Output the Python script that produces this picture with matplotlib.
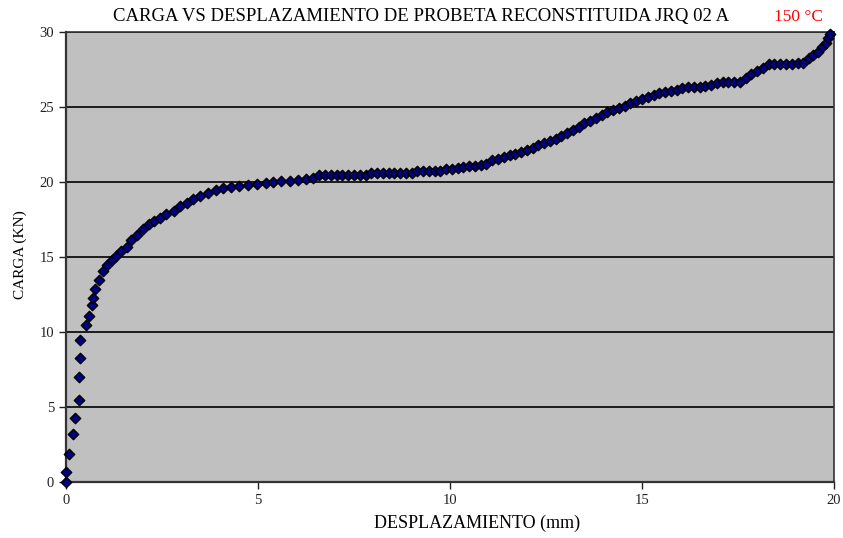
import numpy as np
import matplotlib
matplotlib.use("Agg")
import matplotlib.pyplot as plt

# desplazamiento (mm) and carga (kN)
desplazamiento = [0.0, 0.0, 0.09, 0.18, 0.24, 0.33, 0.33, 0.37, 0.37, 0.52, 0.61, 0.67, 0.7, 0.75, 0.85,
                  0.97, 1.08, 1.19, 1.3, 1.42, 1.58, 1.7, 1.85, 2.01, 2.15, 2.3, 2.45, 2.6, 2.8, 2.97,
                  3.14, 3.3, 3.49, 3.7, 3.9, 4.1, 4.3, 4.5, 4.75, 4.97, 5.2, 5.4, 5.6, 5.83, 6.05,
                  6.25, 6.43, 6.6, 6.75, 6.9, 7.05, 7.2, 7.35, 7.5, 7.65, 7.8, 7.95, 8.1, 8.25, 8.4,
                  8.55, 8.7, 8.85, 9.0, 9.15, 9.3, 9.45, 9.6, 9.75, 9.9, 10.05, 10.2, 10.35, 10.5,
                  10.65, 10.8, 10.95, 11.1, 11.25, 11.4, 11.55, 11.7, 11.85, 12.0, 12.15, 12.3, 12.45,
                  12.6, 12.75, 12.9, 13.05, 13.2, 13.35, 13.5, 13.65, 13.8, 13.95, 14.1, 14.25, 14.4,
                  14.55, 14.7, 14.85, 15.0, 15.15, 15.3, 15.45, 15.6, 15.75, 15.9, 16.05, 16.2, 16.35,
                  16.5, 16.65, 16.8, 16.95, 17.1, 17.25, 17.4, 17.55, 17.7, 17.85, 18.0, 18.15, 18.3,
                  18.45, 18.6, 18.75, 18.9, 19.05, 19.2, 19.35, 19.46, 19.58, 19.7, 19.78, 19.84, 19.9]
carga = [0.0, 0.67, 1.85, 3.18, 4.3, 5.5, 7.0, 8.25, 9.45, 10.47, 11.1, 11.8, 12.3, 12.9, 13.5,
         14.1, 14.5, 14.8, 15.1, 15.4, 15.7, 16.1, 16.5, 16.9, 17.2, 17.4, 17.6, 17.85, 18.1, 18.4,
         18.6, 18.85, 19.1, 19.3, 19.45, 19.58, 19.68, 19.75, 19.82, 19.9, 19.95, 20.0, 20.05, 20.1, 20.15,
         20.2, 20.25, 20.45, 20.45, 20.45, 20.45, 20.45, 20.45, 20.45, 20.45, 20.45, 20.6, 20.6, 20.6, 20.6,
         20.6, 20.6, 20.6, 20.6, 20.75, 20.75, 20.75, 20.75, 20.75, 20.85, 20.9, 20.95, 21.0, 21.05,
         21.1, 21.12, 21.2, 21.45, 21.55, 21.65, 21.78, 21.88, 22.0, 22.15, 22.3, 22.45, 22.6,
         22.75, 22.9, 23.08, 23.25, 23.5, 23.7, 23.92, 24.1, 24.3, 24.5, 24.65, 24.8, 24.95,
         25.1, 25.3, 25.42, 25.55, 25.7, 25.8, 25.95, 26.0, 26.1, 26.15, 26.25, 26.35, 26.35,
         26.35, 26.4, 26.47, 26.6, 26.7, 26.7, 26.7, 26.7, 26.95, 27.2, 27.4, 27.58, 27.9,
         27.9, 27.9, 27.9, 27.9, 27.95, 27.95, 28.25, 28.47, 28.7, 29.0, 29.3, 29.58, 29.9]

plt.rcParams['font.family'] = ['Liberation Serif', 'DejaVu Serif']

fig = plt.figure(figsize=(8.43, 5.38), dpi=100)
ax = fig.add_axes([66 / 843, 56 / 538, 768 / 843, 450 / 538])
ax.set_facecolor('#c0c0c0')

ax.scatter(desplazamiento, carga, marker='D', s=28, facecolor='#000080',
           edgecolor='black', linewidth=1.0, zorder=3, clip_on=False)

ax.set_xlim(0, 20)
ax.set_ylim(0, 30)
ax.set_xticks([0, 5, 10, 15, 20])
ax.set_yticks([0, 5, 10, 15, 20, 25, 30])
ax.grid(axis='y', color='black', linewidth=1.2)
ax.set_axisbelow(True)
ax.tick_params(direction='out', length=5, width=1, labelsize=10.5, colors='#222222')

for side in ['left', 'bottom']:
    ax.spines[side].set_linewidth(1.6)
    ax.spines[side].set_color('#333333')
for side in ['top', 'right']:
    ax.spines[side].set_linewidth(1.2)
    ax.spines[side].set_color('#333333')

fig.text(477 / 843, 1 - 523 / 538, 'DESPLAZAMIENTO (mm)', ha='center', va='center', fontsize=13)
fig.text(20 / 843, 1 - 255 / 538, 'CARGA (KN)', ha='center', va='center', rotation=90, fontsize=11)

fig.text(421 / 843, 1 - 17 / 538, 'CARGA VS DESPLAZAMIENTO DE PROBETA RECONSTITUIDA JRQ 02 A',
         ha='center', va='center', fontsize=13.5)
fig.text(798 / 843, 1 - 17 / 538, '150 °C', ha='center', va='center', fontsize=12.5, color='red')

fig.savefig('out.png', dpi=100)
